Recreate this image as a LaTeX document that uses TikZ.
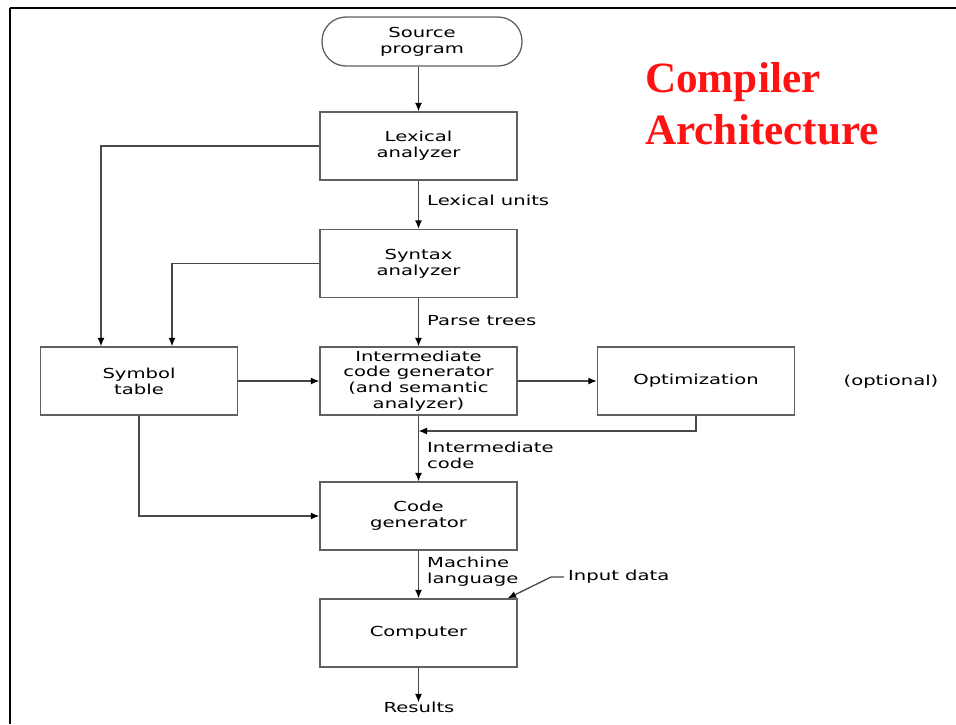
\documentclass[tikz,border=0pt]{standalone}
\usepackage{fontspec}
\setmainfont{DejaVu Sans}[FakeStretch=1.42]
\newfontfamily\titlefont{Liberation Serif}
\usetikzlibrary{arrows.meta}
\definecolor{linegray}{RGB}{72,72,72}
\definecolor{boxgray}{RGB}{96,96,96}
\definecolor{titlered}{RGB}{255,18,18}
\tikzset{
  txt/.style={font=\fontsize{13.8}{15.8}\selectfont, align=center, inner sep=0pt},
  lbl/.style={txt, align=left, anchor=west},
  stage/.style={txt, draw=boxgray, line width=1.3pt, minimum width=197pt, minimum height=68pt},
  terminal/.style={txt, draw=boxgray, line width=1.3pt, minimum width=200pt, minimum height=49pt, rounded corners=24pt},
  arr/.style={draw=linegray, line width=1.3pt, -{Latex[length=8.5pt,width=7pt,black]}},
  frame/.style={line width=2.6pt, black}
}
\begin{document}
\begin{tikzpicture}[x=1pt,y=-1pt]
\useasboundingbox (0,0) rectangle (956,724);
% page frame
\draw[frame] (10,8) -- (956,8);
\draw[frame] (10,8) -- (10,724);

% title
\node[anchor=north west, align=left, inner sep=0pt, text=titlered,
      font=\titlefont\bfseries\fontsize{43.2}{52}\selectfont] (title) at (645,62)
  {Compiler\\Architecture};

% processing stages
\node[terminal] (src)  at (422,41.5)    {Source\\program};
\node[stage]    (lex)  at (418.5,146) {Lexical\\analyzer};
\node[stage]    (syn)  at (418.5,263.5) {Syntax\\analyzer};
\node[stage]    (icg)  at (418.5,381) {Intermediate\\code generator\\(and semantic\\analyzer)};
\node[stage]    (sym)  at (139,381)   {Symbol\\table};
\node[stage]    (opt)  at (696,381)   {Optimization};
\node[stage]    (cg)   at (418.5,516) {Code\\generator};
\node[stage]    (comp) at (418.5,633) {Computer};
\node[txt]      (optn) at (891,382)   {(optional)};
\node[txt]      (res)  at (419,707)   {Results};

% edge labels
\node[lbl] (lu) at (427,200) {Lexical units};
\node[lbl] (pt) at (427,321) {Parse trees};
\node[lbl] (ic) at (427,455) {Intermediate\\code};
\node[lbl] (ml) at (427,572) {Machine\\language};
\node[lbl] (ind) at (568,577) {Input data};

% helper points
\coordinate (fb)   at (418.5,431);
\coordinate (indk) at (551,577);
\coordinate (indt) at ([xshift=-10pt]comp.north east);

% main flow
\draw[arr] (lex.north |- src.south) -- (lex.north);
\draw[arr] (lex.south) -- (syn.north);
\draw[arr] (syn.south) -- (icg.north);
\draw[arr] (icg.south) -- (cg.north);
\draw[arr] (cg.south) -- (comp.north);
\draw[arr] (comp.south) -- ([yshift=-1pt]comp.south |- res.north);

% symbol table links
\draw[arr] (lex.west) -| ([xshift=-38pt]sym.north);
\draw[arr] (syn.west) -| ([xshift=33pt]sym.north);
\draw[arr] (sym.east) -- (icg.west);
\draw[arr] (sym.south) |- (cg.west);

% optimization loop
\draw[arr] (icg.east) -- (opt.west);
\draw[arr] (opt.south) |- (fb);

% input data
\draw[arr] ([xshift=-4pt]ind.west) -- (indk) -- (indt);
\end{tikzpicture}
\end{document}
